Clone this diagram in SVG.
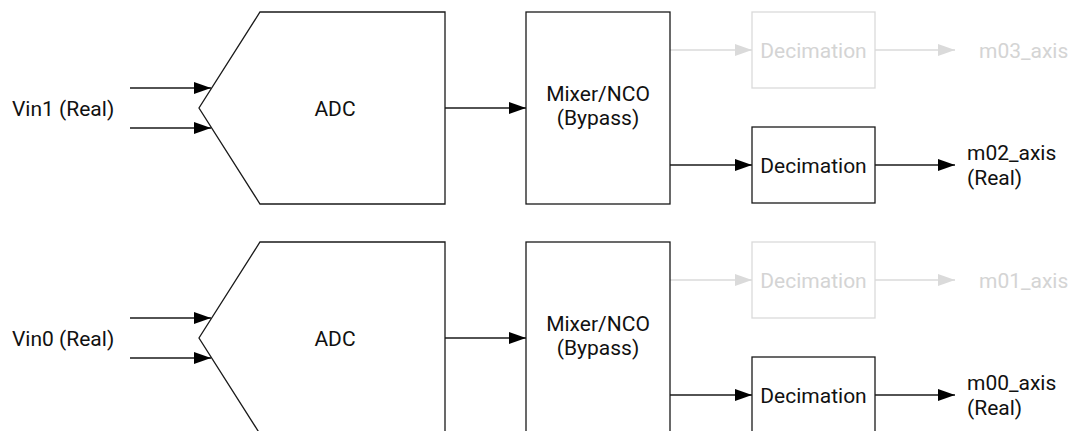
<svg xmlns="http://www.w3.org/2000/svg" width="1073" height="431" viewBox="0 0 1073 431">
<defs>
<style>
.blk{fill:#fff;stroke:#1a1a1a;stroke-width:1.3}
.gblk{fill:#fff;stroke:#dadada;stroke-width:1.3}
.ln{fill:none;stroke:#1a1a1a;stroke-width:1.3}
.gln{fill:none;stroke:#dadada;stroke-width:1.3}
text{font-family:Roboto,"Liberation Sans",sans-serif;font-size:21px;fill:#111}
.g{fill:#d4d4d4}
.c{text-anchor:middle}
</style>
<marker id="ah" markerWidth="17" markerHeight="12" refX="17" refY="6" orient="auto" markerUnits="userSpaceOnUse">
<path d="M0,0 L17,6 L0,12 z" fill="#000"/>
</marker>
<marker id="gah" markerWidth="17" markerHeight="12" refX="17" refY="6" orient="auto" markerUnits="userSpaceOnUse">
<path d="M0,0 L17,6 L0,12 z" fill="#dadada"/>
</marker>
</defs>
<rect width="1073" height="431" fill="#fff"/>

<g id="connectors">
<line class="ln" x1="130" y1="88" x2="211" y2="88" marker-end="url(#ah)"/>
<line class="ln" x1="130" y1="128" x2="211" y2="128" marker-end="url(#ah)"/>
<line class="ln" x1="445" y1="108" x2="526" y2="108" marker-end="url(#ah)"/>
<line class="gln" x1="670" y1="50" x2="752" y2="50" marker-end="url(#gah)"/>
<line class="gln" x1="875" y1="50" x2="955" y2="50" marker-end="url(#gah)"/>
<line class="ln" x1="670" y1="165" x2="752" y2="165" marker-end="url(#ah)"/>
<line class="ln" x1="875" y1="165" x2="955" y2="165" marker-end="url(#ah)"/>

<line class="ln" x1="130" y1="318" x2="211" y2="318" marker-end="url(#ah)"/>
<line class="ln" x1="130" y1="358" x2="211" y2="358" marker-end="url(#ah)"/>
<line class="ln" x1="445" y1="338" x2="526" y2="338" marker-end="url(#ah)"/>
<line class="gln" x1="670" y1="280" x2="752" y2="280" marker-end="url(#gah)"/>
<line class="gln" x1="875" y1="280" x2="955" y2="280" marker-end="url(#gah)"/>
<line class="ln" x1="670" y1="395" x2="752" y2="395" marker-end="url(#ah)"/>
<line class="ln" x1="875" y1="395" x2="955" y2="395" marker-end="url(#ah)"/>
</g>

<g id="vin1"><text x="12" y="115.5">Vin1 (Real)</text></g>
<g id="adc1">
<polygon class="blk" points="260,12 445,12 445,204 260,204 199,108"/>
<text class="c" x="335" y="115.5">ADC</text>
</g>
<g id="mixer1">
<rect class="blk" x="526" y="12" width="144" height="192"/>
<text class="c" x="598" y="101">Mixer/NCO</text>
<text class="c" x="598" y="125">(Bypass)</text>
</g>
<g id="dec3">
<rect class="gblk" x="752" y="12" width="123" height="76"/>
<text class="c g" x="813.5" y="57.5">Decimation</text>
</g>
<g id="m03"><text class="g" x="979" y="57.5">m03_axis</text></g>
<g id="dec2">
<rect class="blk" x="752" y="127" width="123" height="76"/>
<text class="c" x="813.5" y="172.5">Decimation</text>
</g>
<g id="m02"><text x="967" y="160">m02_axis</text><text x="967" y="185">(Real)</text></g>

<g id="vin0"><text x="12" y="345.5">Vin0 (Real)</text></g>
<g id="adc0">
<polygon class="blk" points="260,242 445,242 445,434 260,434 199,338"/>
<text class="c" x="335" y="345.5">ADC</text>
</g>
<g id="mixer0">
<rect class="blk" x="526" y="242" width="144" height="192"/>
<text class="c" x="598" y="331">Mixer/NCO</text>
<text class="c" x="598" y="355">(Bypass)</text>
</g>
<g id="dec1">
<rect class="gblk" x="752" y="242" width="123" height="76"/>
<text class="c g" x="813.5" y="287.5">Decimation</text>
</g>
<g id="m01"><text class="g" x="979" y="287.5">m01_axis</text></g>
<g id="dec0">
<rect class="blk" x="752" y="357" width="123" height="76"/>
<text class="c" x="813.5" y="402.5">Decimation</text>
</g>
<g id="m00"><text x="967" y="390">m00_axis</text><text x="967" y="415">(Real)</text></g>
</svg>
